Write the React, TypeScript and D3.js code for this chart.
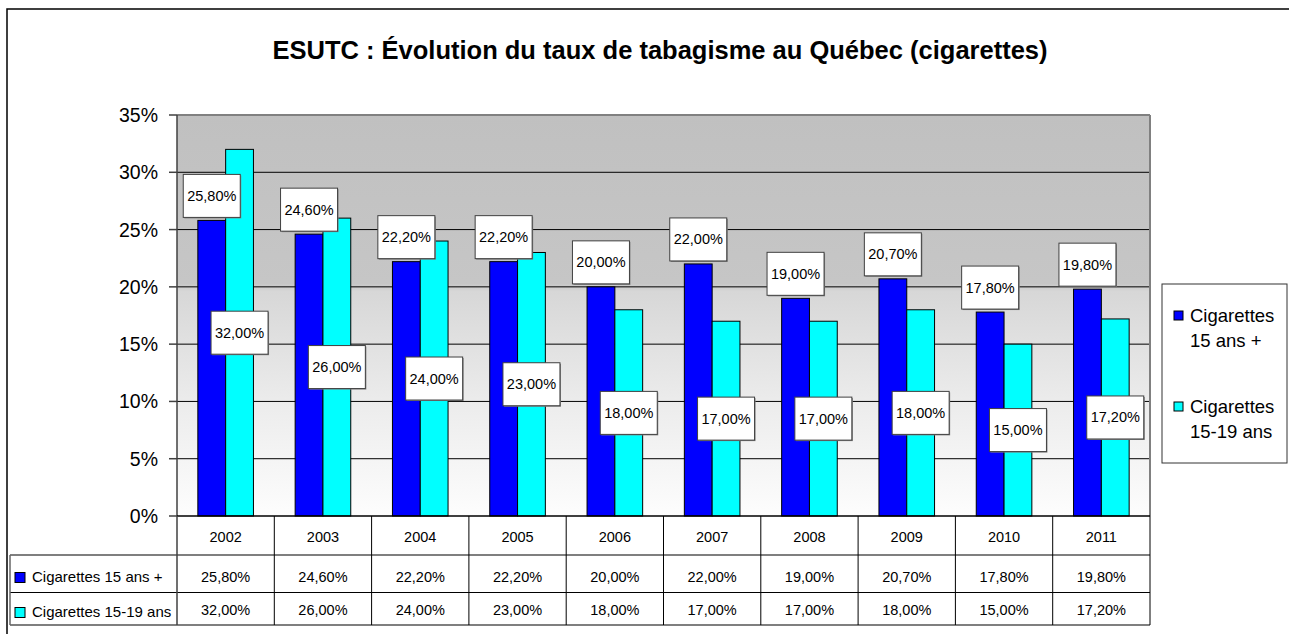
import * as d3 from 'd3';

const years = ['2002', '2003', '2004', '2005', '2006', '2007', '2008', '2009', '2010', '2011'];
const adults = [25.8, 24.6, 22.2, 22.2, 20.0, 22.0, 19.0, 20.7, 17.8, 19.8];
const youth = [32.0, 26.0, 24.0, 23.0, 18.0, 17.0, 17.0, 18.0, 15.0, 17.2];
const yTicks = [0, 5, 10, 15, 20, 25, 30, 35];
const seriesNames = ['Cigarettes 15 ans +', 'Cigarettes 15-19 ans'];
const legendLines = [
  ['Cigarettes', '15 ans +'],
  ['Cigarettes', '15-19 ans'],
];
const colors = ['#0000ff', '#00ffff'];
const title = 'ESUTC : Évolution du taux de tabagisme au Québec (cigarettes)';

const font = '"Liberation Sans", Arial, sans-serif';
const pct = (v: number) => d3.format('.2f')(v).replace('.', ',') + '%';

const W = 1289;
const H = 634;
const plot = { left: 177, right: 1150, top: 115, bottom: 516 };
const table = { left: 10, rowYear: 555, row1: 592.5, bottom: 625 };

export default function App() {
  const x = d3.scaleBand().domain(years).range([plot.left, plot.right]).padding(0);
  const y = d3.scaleLinear().domain([0, 35]).range([plot.bottom, plot.top]);
  const band = x.bandwidth();
  const groupW = band / 1.75;
  const x1 = d3.scaleBand().domain(['a', 'y']).range([0, groupW]).padding(0);
  const barW = x1.bandwidth();
  const series = [adults, youth];

  const boxW = 57;
  const boxH = 43;

  return (
    <svg width={W} height={H} style={{ position: 'absolute', left: 0, top: 0, fontFamily: font }}>
      <defs>
        <linearGradient id="bg" x1="0" y1="0" x2="0" y2="1">
          <stop offset="0" stopColor="#c0c0c0" />
          <stop offset="0.42" stopColor="#c6c6c6" />
          <stop offset="0.44" stopColor="#d7d7d7" />
          <stop offset="0.72" stopColor="#ececec" />
          <stop offset="1" stopColor="#fdfdfd" />
        </linearGradient>
      </defs>
      <rect x={0} y={0} width={W} height={H} fill="#fff" />
      <rect x={7} y={9} width={1400} height={800} fill="none" stroke="#000" strokeWidth={1.5} />

      <text x={660} y={59} textAnchor="middle" fontSize={25.5} fontWeight="bold" fill="#000">
        {title}
      </text>

      {/* plot area */}
      <rect x={plot.left} y={plot.top} width={plot.right - plot.left} height={plot.bottom - plot.top} fill="url(#bg)" />
      {yTicks.slice(1, -1).map((t) => (
        <line key={t} x1={plot.left} x2={plot.right} y1={y(t)} y2={y(t)} stroke="#000" strokeWidth={1} />
      ))}
      <line x1={plot.left} x2={plot.right} y1={plot.top} y2={plot.top} stroke="#808080" strokeWidth={2} />
      <line x1={plot.right} x2={plot.right} y1={plot.top} y2={plot.bottom} stroke="#808080" strokeWidth={2} />
      <line x1={plot.left} x2={plot.left} y1={plot.top} y2={plot.bottom} stroke="#404040" strokeWidth={1.5} />
      {yTicks.map((t) => (
        <g key={t}>
          <line x1={169} x2={plot.left} y1={y(t)} y2={y(t)} stroke="#404040" strokeWidth={1.5} />
          <text x={158} y={y(t) + 7} textAnchor="end" fontSize={19.5} fill="#000">
            {t}%
          </text>
        </g>
      ))}

      {/* bars */}
      {years.map((yr, i) => {
        const g0 = (x(yr) as number) + (band - groupW) / 2;
        return series.map((s, k) => (
          <rect
            key={yr + k}
            x={g0 + (x1(k === 0 ? 'a' : 'y') as number)}
            y={y(s[i])}
            width={barW}
            height={y(0) - y(s[i])}
            fill={colors[k]}
            stroke="#000"
            strokeWidth={1}
          />
        ));
      })}

      {/* data labels */}
      {years.map((yr, i) => {
        const g0 = (x(yr) as number) + (band - groupW) / 2;
        return series.map((s, k) => {
          const cx = g0 + (x1(k === 0 ? 'a' : 'y') as number) + barW / 2;
          const cy = k === 0 ? y(s[i]) - 3 - boxH / 2 : (y(s[i]) + y(0)) / 2;
          return (
            <g key={'l' + yr + k}>
              <rect x={cx - boxW / 2 + 1} y={cy - boxH / 2 + 1} width={boxW} height={boxH} fill="#808080" />
              <rect x={cx - boxW / 2} y={cy - boxH / 2} width={boxW} height={boxH} fill="#fff" stroke="#404040" strokeWidth={1} />
              <text x={cx} y={cy + 5} textAnchor="middle" fontSize={14.5} fill="#000">
                {pct(s[i])}
              </text>
            </g>
          );
        });
      })}

      {/* axis line */}
      <line x1={plot.left} x2={plot.right} y1={plot.bottom} y2={plot.bottom} stroke="#000" strokeWidth={1.5} />

      {/* data table */}
      <line x1={table.left} x2={plot.right} y1={table.rowYear} y2={table.rowYear} stroke="#000" strokeWidth={1.2} />
      <line x1={table.left} x2={plot.right} y1={table.row1} y2={table.row1} stroke="#000" strokeWidth={1.2} />
      <line x1={table.left} x2={plot.right} y1={table.bottom} y2={table.bottom} stroke="#000" strokeWidth={1.2} />
      <line x1={table.left} x2={table.left} y1={table.rowYear} y2={table.bottom} stroke="#666" strokeWidth={1.5} />
      {years.map((yr) => (
        <line
          key={'v' + yr}
          x1={(x(yr) as number) + band}
          x2={(x(yr) as number) + band}
          y1={plot.bottom}
          y2={table.bottom}
          stroke="#000"
          strokeWidth={1}
        />
      ))}
      <line x1={plot.left} x2={plot.left} y1={plot.bottom} y2={table.bottom} stroke="#404040" strokeWidth={1.5} />
      {years.map((yr, i) => (
        <g key={'t' + yr} fontSize={14.5} fill="#000" textAnchor="middle">
          <text x={(x(yr) as number) + band / 2} y={541.5}>
            {yr}
          </text>
          <text x={(x(yr) as number) + band / 2} y={581.5}>
            {pct(adults[i])}
          </text>
          <text x={(x(yr) as number) + band / 2} y={615}>
            {pct(youth[i])}
          </text>
        </g>
      ))}
      {seriesNames.map((name, k) => {
        const base = k === 0 ? 581.5 : 616.5;
        return (
          <g key={name}>
            <rect x={15} y={base - 9} width={10} height={10} fill={colors[k]} stroke="#000" strokeWidth={1} />
            <text x={32} y={base} fontSize={15} fill="#000">
              {name}
            </text>
          </g>
        );
      })}

      {/* legend */}
      <rect x={1162} y={284} width={125} height={179} fill="#fff" stroke="#333" strokeWidth={1} />
      {legendLines.map((lines, k) => {
        const base = k === 0 ? 322 : 413;
        return (
          <g key={'lg' + k}>
            <rect x={1174} y={base - 11} width={9} height={9} fill={colors[k]} stroke="#000" strokeWidth={1} />
            {lines.map((ln, j) => (
              <text key={j} x={1190} y={base + j * 24.5} fontSize={18.5} fill="#000">
                {ln}
              </text>
            ))}
          </g>
        );
      })}
    </svg>
  );
}
